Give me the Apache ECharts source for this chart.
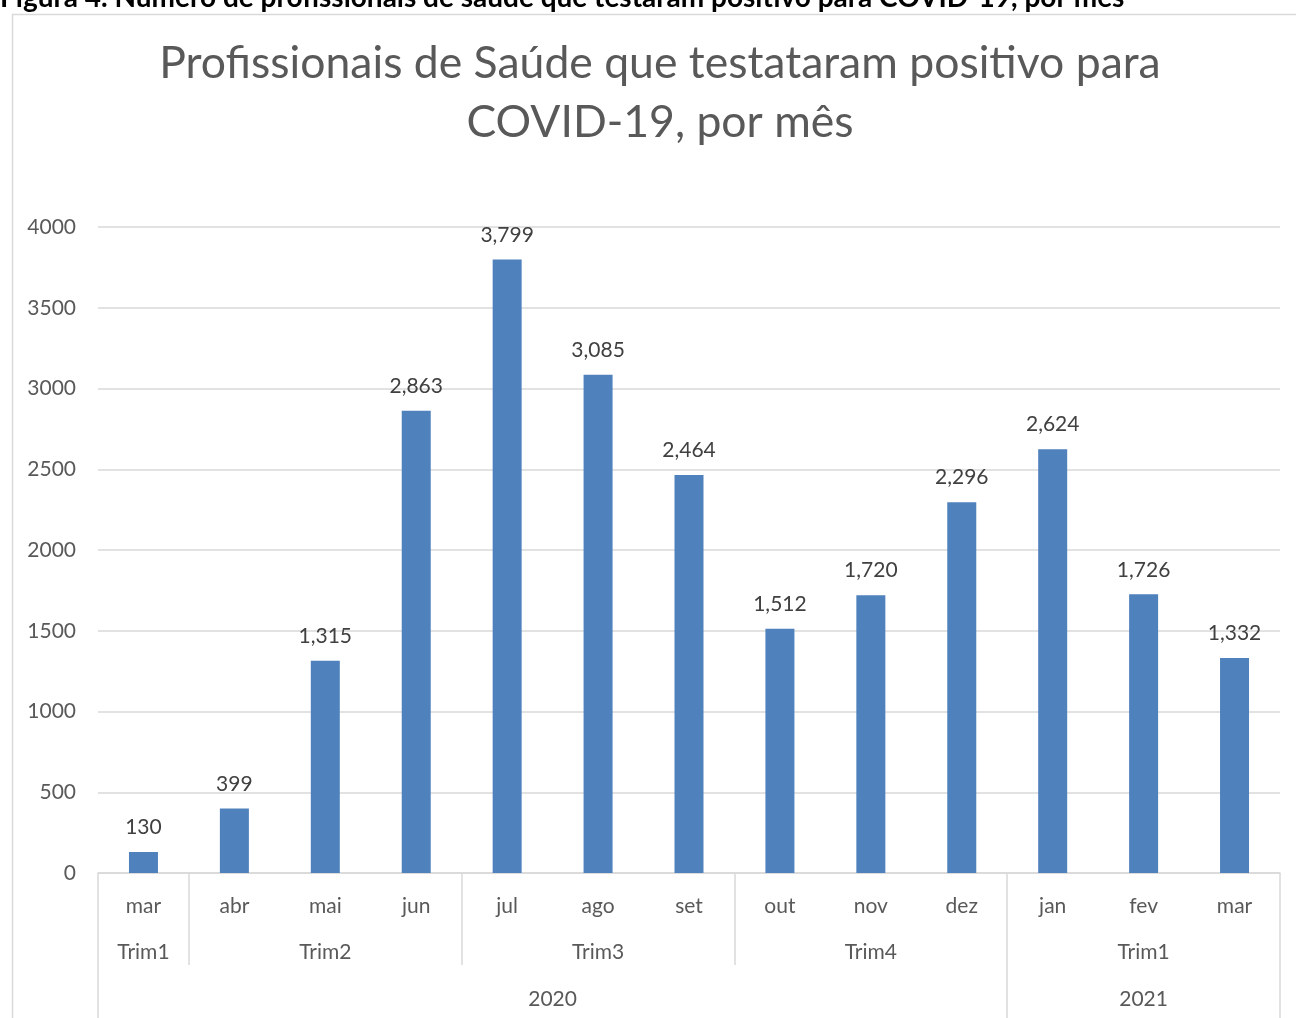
<!DOCTYPE html>
<html>
<head>
<meta charset="utf-8">
<script src="https://cdn.jsdelivr.net/npm/echarts@6/dist/echarts.min.js"></script>
<style>html,body{margin:0;padding:0;background:#fff;}#c{width:1296px;height:1018px;}</style>
</head>
<body>
<div id="c"></div>
<script>
const months = ['mar','abr','mai','jun','jul','ago','set','out','nov','dez','jan','fev','mar'];
const values = [130, 399, 1315, 2863, 3799, 3085, 2464, 1512, 1720, 2296, 2624, 1726, 1332];
// trimester groups: [label, number of months]
const trimesters = [['Trim1',1],['Trim2',3],['Trim3',3],['Trim4',3],['Trim1',3]];
const years = [['2020',10],['2021',3]];
const yTicks = [0,500,1000,1500,2000,2500,3000,3500,4000];
const titleText = 'Profissionais de Saúde que testataram positivo para\nCOVID-19, por mês';
const captionText = 'Figura 4. Número de profissionais de saúde que testaram positivo para COVID-19, por mês ¹';

const FONT = 'Lato';
const nHalf = months.length * 2; // half-month points
function groupAxis(groups) {
  const labels = new Array(nHalf + 1).fill('');
  const ticks = new Set([0]);
  let start = 0;
  groups.forEach(([name, n]) => {
    labels[start + n] = name;
    start += 2 * n;
    ticks.add(start);
  });
  return {labels, ticks};
}
const tri = groupAxis(trimesters);
const yr = groupAxis(years);

const chart = echarts.init(document.getElementById('c'), null, {renderer: 'canvas'});
const labelColor = '#595959';
chart.setOption({
  animation: false,
  textStyle: {fontFamily: FONT},
  title: {
    text: titleText,
    left: 655, textAlign: 'center', top: 29,
    textStyle: {fontFamily: FONT, fontWeight: 'normal', fontSize: 44.5, color: labelColor, lineHeight: 59}
  },
  graphic: [
    {type: 'rect', left: 10, top: 12, shape: {width: 1320, height: 1040}, style: {fill: 'none', stroke: '#d9d9d9', lineWidth: 1.5}, z: -1},
    {type: 'text', left: 0, top: -16, style: {text: captionText, fontFamily: FONT, fontWeight: 'bold', fontSize: 28, fill: '#000'}}
  ],
  grid: {left: 98, right: 16, top: 227, bottom: 145, containLabel: false},
  xAxis: [
    {
      type: 'category', data: months, position: 'bottom',
      axisLine: {show: true, lineStyle: {color: '#d9d9d9', width: 1.5}},
      axisTick: {show: true, length: 92, lineStyle: {color: '#d9d9d9', width: 1.5},
        interval: (i) => tri.ticks.has(i * 2)},
      axisLabel: {interval: 0, margin: 23, fontSize: 21, color: labelColor, fontFamily: FONT},
      splitLine: {show: false}
    },
    {
      type: 'category', data: tri.labels, boundaryGap: false, position: 'bottom',
      axisLine: {show: false}, axisTick: {show: false},
      axisLabel: {interval: 0, margin: 69, fontSize: 21, color: labelColor, fontFamily: FONT},
      splitLine: {show: false}
    },
    {
      type: 'category', data: yr.labels, boundaryGap: false, position: 'bottom',
      axisLine: {show: false},
      axisTick: {show: true, length: 150, lineStyle: {color: '#d9d9d9', width: 1.5},
        interval: (i) => yr.ticks.has(i)},
      axisLabel: {interval: 0, margin: 116, fontSize: 21, color: labelColor, fontFamily: FONT},
      splitLine: {show: false}
    }
  ],
  yAxis: {
    type: 'value', min: yTicks[0], max: yTicks[yTicks.length - 1], interval: yTicks[1] - yTicks[0],
    axisLine: {show: false}, axisTick: {show: false},
    axisLabel: {margin: 22, fontSize: 21, color: labelColor, fontFamily: FONT, formatter: (v) => String(v)},
    splitLine: {lineStyle: {color: '#d9d9d9', width: 1.5}}
  },
  series: [{
    type: 'bar', data: values, xAxisIndex: 0, barWidth: 29,
    itemStyle: {color: '#4f81bd'},
    label: {show: true, position: 'top', distance: 14, fontSize: 21, color: '#404040', fontFamily: FONT,
      formatter: (p) => p.value.toLocaleString('en-US')}
  }]
});
</script>
</body>
</html>
